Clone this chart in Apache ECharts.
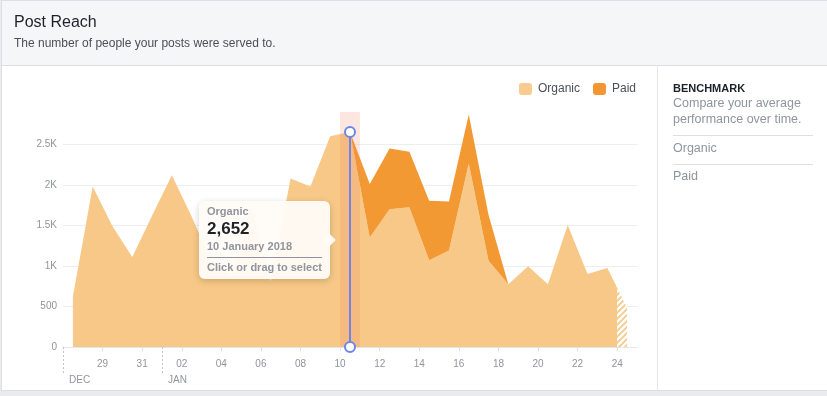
<!DOCTYPE html>
<html>
<head>
<meta charset="utf-8">
<title>Post Reach</title>
<script src="https://cdn.jsdelivr.net/npm/echarts@6/dist/echarts.min.js"></script>
<style>
html,body{margin:0;padding:0;width:827px;height:396px;overflow:hidden;background:#e9ebee;}
.card{position:absolute;left:1px;top:0;width:840px;height:391px;background:#fff;border:1px solid #dddfe2;box-sizing:border-box;}
.card-head{position:absolute;left:0;top:0;right:0;height:64px;background:#f5f6f7;border-bottom:1px solid #dddfe2;}
.divider{position:absolute;left:655px;top:64px;width:1px;bottom:0;background:#e5e6e9;}
#reach{position:absolute;left:0;top:0;width:827px;height:396px;}
</style>
</head>
<body>
<div class="card"><div class="card-head"></div><div class="divider"></div></div>
<div id="reach"></div>
<script>
// one entry per day, last day is still running (drawn hatched)
const days = [
  '27 December 2017','28 December 2017','29 December 2017','30 December 2017','31 December 2017',
  '1 January 2018','2 January 2018','3 January 2018','4 January 2018','5 January 2018',
  '6 January 2018','7 January 2018','8 January 2018','9 January 2018','10 January 2018',
  '11 January 2018','12 January 2018','13 January 2018','14 January 2018','15 January 2018',
  '16 January 2018','17 January 2018','18 January 2018','19 January 2018','20 January 2018',
  '21 January 2018','22 January 2018','23 January 2018','24 January 2018'
]
const organic = [620,1980,1490,1110,1620,2120,1610,1050,880,1750,810,2080,1980,2600,2652,
  1350,1700,1725,1070,1190,2265,1065,775,995,775,1505,900,975,480]
const paid = [0,0,0,0,0,0,0,0,0,0,0,0,0,0,0,
  660,750,685,735,605,605,565,0,0,0,0,0,0,0]
const selectedDay = '10 January 2018'

const FONT = 'Helvetica, Arial, sans-serif'
const ORG = '#f7c887'
const PAID = '#f29934'
const GREY = '#90949c'

const sel = days.indexOf(selectedDay)
const partialFrom = days.length - 1
// [reach, day position]: reach first so the stack runs on the y values
const pts = arr => arr.map((v, i) => [v, i + 0.5])
const enc = {x: 1, y: 0}
const labelDays = days.map((d, i) => i).filter(i => i > 0 && i % 2 === 0)
const monthStarts = days.map((d, i) => i).filter(i => i === 0 || days[i].split(' ')[0] === '1')

// hatch for the unfinished day
const hatch = document.createElement('canvas')
hatch.width = 6; hatch.height = 6
const hc = hatch.getContext('2d')
hc.fillStyle = '#fff'; hc.fillRect(0, 0, 6, 6)
hc.strokeStyle = ORG; hc.lineWidth = 1.7
hc.beginPath()
hc.moveTo(0, 6); hc.lineTo(6, 0)
hc.moveTo(-1, 1); hc.lineTo(1, -1)
hc.moveTo(5, 7); hc.lineTo(7, 5)
hc.stroke()

function tip(params) {
  const p = params.find(x => x.seriesName === 'Organic')
  const v = organic[p.dataIndex].toLocaleString('en-US')
  return '<div style="position:relative;width:131px;height:78px;box-sizing:border-box;padding:4px 8px 0 8px;font-family:' + FONT + ';font-weight:bold;white-space:nowrap;">' +
    '<div style="font-size:11px;line-height:13px;color:' + GREY + ';">Organic</div>' +
    '<div style="font-size:17px;line-height:20px;color:#1d2129;margin-top:1px;">' + v + '</div>' +
    '<div style="font-size:11px;line-height:13px;color:' + GREY + ';margin-top:1px;">' + days[p.dataIndex] + '</div>' +
    '<div style="height:1px;background:' + GREY + ';margin-top:4px;"></div>' +
    '<div style="font-size:11px;line-height:13px;color:' + GREY + ';margin-top:3px;">Click or drag to select</div>' +
    '<div style="position:absolute;right:-4px;top:35px;width:8px;height:8px;background:rgb(255,251,246);transform:rotate(45deg);"></div>' +
    '</div>'
}

const chart = echarts.init(document.getElementById('reach'))
chart.setOption({
  animation: false,
  title: {
    text: 'Post Reach',
    subtext: 'The number of people your posts were served to.',
    left: 14, top: 15, padding: 0, itemGap: 7,
    textStyle: {fontSize: 16, fontWeight: 'normal', color: '#1d2129', fontFamily: FONT},
    subtextStyle: {fontSize: 12, color: '#4b4f56', fontFamily: FONT}
  },
  legend: {
    right: 191, top: 83, padding: 0,
    icon: 'roundRect', itemWidth: 13, itemHeight: 12, itemGap: 13,
    selectedMode: false,
    textStyle: {fontSize: 12, color: '#4b4f56', fontFamily: FONT, padding: [0, 0, 0, 1]},
    data: [
      {name: 'Organic', itemStyle: {color: '#f9cb8f'}},
      {name: 'Paid', itemStyle: {color: '#f39532'}}
    ]
  },
  grid: {left: 63, right: 190, top: 112, bottom: 49},
  tooltip: {
    trigger: 'axis',
    axisPointer: {type: 'none'},
    triggerOn: 'none',
    alwaysShowContent: true,
    transitionDuration: 0,
    position: [199, 201],
    padding: 0,
    borderWidth: 0,
    borderRadius: 6,
    backgroundColor: 'rgba(255,251,246,0.96)',
    extraCssText: 'box-shadow:0 2px 7px rgba(0,0,0,0.18);',
    formatter: tip
  },
  visualMap: {
    type: 'piecewise', show: false, seriesIndex: 0, dimension: 1,
    pieces: [
      {lt: partialFrom, color: ORG},
      {gte: partialFrom, lte: days.length, color: 'rgba(247,200,135,0)'}
    ]
  },
  xAxis: [
    {
      type: 'value', min: 0, max: days.length,
      splitLine: {show: false},
      axisLine: {lineStyle: {color: '#e4e6ea'}},
      axisTick: {customValues: labelDays, length: 4, lineStyle: {color: '#dddfe2'}},
      axisLabel: {
        customValues: labelDays, margin: 12,
        fontSize: 10, color: GREY, fontFamily: FONT,
        formatter: v => days[v].split(' ')[0].padStart(2, '0')
      }
    },
    {
      type: 'value', min: 0, max: days.length, position: 'bottom',
      splitLine: {show: false},
      axisLine: {show: false},
      axisTick: {customValues: monthStarts, length: 28, lineStyle: {color: '#bec3c9', type: [2, 2]}},
      axisLabel: {
        customValues: monthStarts, margin: 28, align: 'left', padding: [0, 0, 0, 6],
        fontSize: 10, color: GREY, fontFamily: FONT,
        formatter: v => days[v].split(' ')[1].slice(0, 3).toUpperCase()
      }
    }
  ],
  yAxis: {
    type: 'value', min: 0, max: 2900, interval: 500,
    axisLine: {show: false},
    axisTick: {show: false},
    splitLine: {showMaxLine: false, lineStyle: {color: '#eceef1'}},
    axisLabel: {
      margin: 6, fontSize: 10, color: GREY, fontFamily: FONT, showMaxLabel: false,
      formatter: v => v >= 1000 ? (v / 1000) + 'K' : String(v)
    }
  },
  series: [
    {
      name: 'Organic', type: 'line', stack: 'reach',
      data: pts(organic), encode: enc,
      color: ORG,
      symbol: 'none', clip: false,
      emphasis: {disabled: true},
      lineStyle: {width: 0},
      areaStyle: {opacity: 1},
      markLine: {
        silent: true,
        symbol: ['emptyCircle', 'emptyCircle'],
        symbolSize: 10,
        label: {show: false},
        lineStyle: {color: '#6b86e8', width: 2, type: 'solid'},
        data: [[{coord: [sel + 0.5, 0]}, {coord: [sel + 0.5, organic[sel]]}]]
      }
    },
    {
      name: 'Paid', type: 'line', stack: 'reach', z: 3,
      data: pts(paid), encode: enc,
      color: PAID,
      symbol: 'none',
      emphasis: {disabled: true},
      lineStyle: {width: 0},
      areaStyle: {color: PAID, opacity: 1},
      markArea: {
        z: 4, silent: true,
        itemStyle: {color: 'rgba(240,128,96,0.2)'},
        data: [[{xAxis: sel}, {xAxis: sel + 1}]]
      }
    },
    {
      name: 'Organic (partial)', type: 'line', z: 1, silent: true,
      data: pts(organic).slice(partialFrom - 1), encode: enc,
      symbol: 'none',
      emphasis: {disabled: true},
      lineStyle: {width: 0},
      areaStyle: {color: {image: hatch, repeat: 'repeat'}, opacity: 1}
    }
  ],
  graphic: [
    {type: 'text', x: 673, y: 88.5, style: {text: 'BENCHMARK', font: 'bold 11px ' + FONT, fill: '#1d2129', verticalAlign: 'middle'}},
    {type: 'text', x: 673, y: 103.5, style: {text: 'Compare your average', font: '12.5px ' + FONT, fill: GREY, verticalAlign: 'middle'}},
    {type: 'text', x: 673, y: 119.5, style: {text: 'performance over time.', font: '12.5px ' + FONT, fill: GREY, verticalAlign: 'middle'}},
    {type: 'line', shape: {x1: 673, y1: 135.5, x2: 813, y2: 135.5}, style: {stroke: '#dddfe2', lineWidth: 1}},
    {type: 'text', x: 673, y: 148.5, style: {text: 'Organic', font: '12.5px ' + FONT, fill: GREY, verticalAlign: 'middle'}},
    {type: 'line', shape: {x1: 673, y1: 164.5, x2: 813, y2: 164.5}, style: {stroke: '#dddfe2', lineWidth: 1}},
    {type: 'text', x: 673, y: 177, style: {text: 'Paid', font: '12.5px ' + FONT, fill: GREY, verticalAlign: 'middle'}}
  ]
})
chart.dispatchAction({type: 'showTip', seriesIndex: 0, dataIndex: sel})
</script>
</body>
</html>
